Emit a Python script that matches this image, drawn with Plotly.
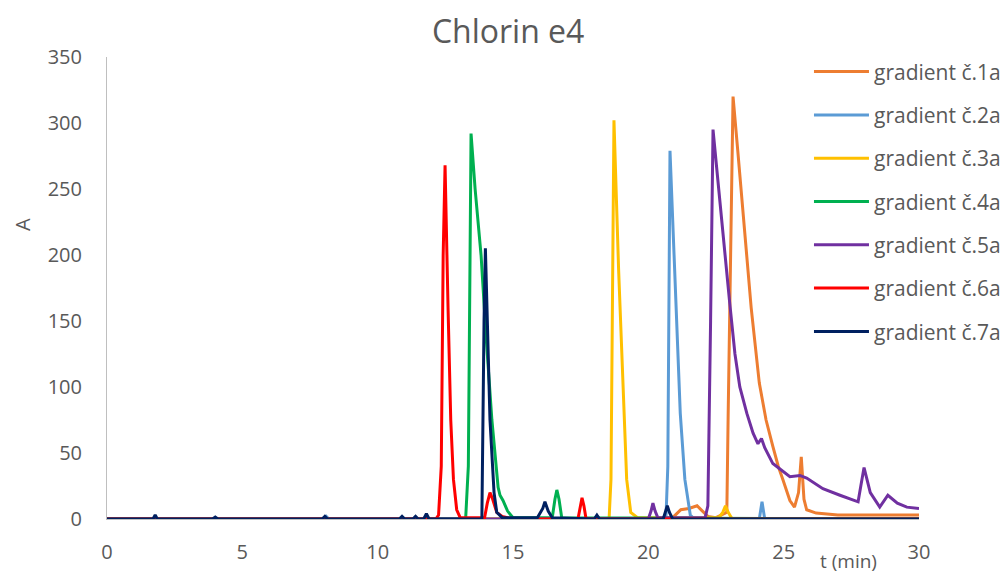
import plotly.graph_objects as go

# ---- data ----
names = ["gradient č.1a", "gradient č.2a", "gradient č.3a", "gradient č.4a",
         "gradient č.5a", "gradient č.6a", "gradient č.7a"]
colors = ["#ED7D31", "#5B9BD5", "#FFC000", "#00B050", "#7030A0", "#FF0000", "#002060"]

t1 = [0, 20.8, 20.9, 21.2, 21.5, 21.8, 22.0, 22.2, 22.5, 22.9, 22.95, 23.13, 23.3, 23.5, 23.8, 24.1, 24.35,
      24.6, 24.8, 24.97, 25.23, 25.4, 25.55, 25.65, 25.75, 25.85, 26.2, 27, 30]
y1 = [0, 0, 1, 7, 8, 10, 6, 2, 1, 5, 80, 320, 280, 232, 160, 103, 75,
      55, 40, 30, 14, 9, 20, 47, 15, 7, 4.5, 3, 3]

t2 = [0, 8.0, 8.1, 8.2, 20.65, 20.72, 20.8, 21.18, 21.35, 21.55, 21.7, 24.1, 24.2, 24.3, 30]
y2 = [0, 0, 2, 0, 0, 40, 279, 80, 30, 3, 0, 0, 13, 0, 0]

t3 = [0, 18.55, 18.62, 18.73, 18.9, 19.1, 19.2, 19.35, 19.6, 22.6, 22.75, 22.85, 22.95, 23.1, 30]
y3 = [0, 0, 30, 302, 190, 80, 30, 5, 1, 1, 5, 10, 5, 0, 0]

t4 = [0, 13.25, 13.35, 13.45, 13.6, 13.82, 14.0, 14.22, 14.45, 14.52, 14.63, 14.8, 15.0,
      16.45, 16.55, 16.62, 16.7, 16.8, 30]
y4 = [0, 0, 40, 292, 250, 200, 140, 75, 24, 18, 14, 6, 1,
      1, 15, 22, 15, 1, 0]

t5 = [0, 20.0, 20.1, 20.17, 20.25, 20.35, 22.1, 22.2, 22.3, 22.39, 22.6, 22.8, 23.0, 23.2, 23.38,
      23.64, 23.87, 24.05, 24.18, 24.3, 24.6, 25.23, 25.6, 25.85, 26.45, 27.08, 27.75, 27.85,
      27.97, 28.2, 28.55, 28.85, 29.2, 29.55, 30]
y5 = [0, 0, 6, 12, 6, 1, 1, 10, 150, 295, 250, 205, 165, 125, 100,
      80, 65, 57, 61, 54, 42, 32, 33, 31, 23, 18, 13, 25,
      39, 20, 9, 18, 12, 9, 8]

t6 = [0, 12.15, 12.25, 12.35, 12.42, 12.49, 12.6, 12.7, 12.8, 12.92, 13.05, 13.95, 14.05, 14.15, 14.25,
      14.4, 14.6, 15.0, 17.4, 17.5, 17.55, 17.62, 17.7, 30]
y6 = [0, 0, 3, 40, 200, 268, 160, 75, 30, 7, 1, 1, 12, 20, 15,
      5, 2, 0, 0, 12, 16, 10, 0, 0]

t7 = [0, 1.7, 1.78, 1.86, 3.9, 4.0, 4.1, 7.95, 8.05, 8.15, 10.8, 10.9, 11.0, 11.3, 11.4, 11.5,
      11.7, 11.8, 11.9, 12.2, 13.85, 13.93, 13.98, 14.15, 14.3, 14.4, 14.6, 15.9, 16.1, 16.18,
      16.3, 16.45, 18.0, 18.1, 18.2, 20.55, 20.65, 20.7, 20.78, 20.9, 30]
y7 = [0, 0, 3, 0, 0, 1.5, 0, 0, 2, 0, 0, 2, 0, 0, 2, 0,
      0, 4, 0, 0, 0, 150, 205, 75, 20, 5, 1, 1, 8, 13,
      6, 1, 0, 3, 0, 0, 6, 10, 5, 0, 0]

series_t = [t1, t2, t3, t4, t5, t6, t7]
series_y = [y1, y2, y3, y4, y5, y6, y7]

x_ticks = [0, 5, 10, 15, 20, 25, 30]
y_ticks = [0, 50, 100, 150, 200, 250, 300, 350]

FONT = "Open Sans"
GREY = "#595959"

fig = go.Figure()
for n, c, tx, ty in zip(names, colors, series_t, series_y):
    fig.add_trace(go.Scatter(x=tx, y=ty, name=n, mode="lines", legendgroup=n,
                             line=dict(color=c, width=3)))

fig.update_layout(
    width=1008, height=574,
    margin=dict(l=107, r=89, t=57, b=55, autoexpand=False),
    paper_bgcolor="white", plot_bgcolor="white",
    font=dict(family=FONT, color=GREY, size=20),
    title=dict(text="Chlorin e4", x=0.494, xref="paper", xanchor="center",
               y=1 - 32 / 574, yanchor="middle", font=dict(size=32, color=GREY, family=FONT)),
    showlegend=True,
    legend=dict(x=0.8645, xanchor="left", y=1.012, yanchor="top", traceorder="grouped",
                tracegroupgap=13, itemwidth=55, maxheight=1,
                font=dict(size=21, color=GREY, family=FONT),
                bgcolor="rgba(0,0,0,0)"),
    xaxis=dict(range=[0, 30], tickvals=x_ticks, showgrid=False, zeroline=False,
               showline=True, linecolor="#BFBFBF", linewidth=1, automargin=False,
               ticks="outside", ticklen=15, tickcolor="rgba(0,0,0,0)",
               tickfont=dict(size=20, color=GREY)),
    yaxis=dict(range=[0, 350], tickvals=y_ticks, showgrid=False, zeroline=False,
               showline=True, linecolor="#BFBFBF", linewidth=1, automargin=False,
               ticks="outside", ticklen=20, tickcolor="rgba(0,0,0,0)",
               tickfont=dict(size=20, color=GREY)),
    annotations=[
        dict(text="A", xref="paper", yref="paper", x=(22 - 107) / 812, y=(519 - 225) / 462,
             xanchor="center", yanchor="middle",
             showarrow=False, textangle=-90, font=dict(size=20, color=GREY)),
        dict(text="t (min)", xref="paper", yref="paper", x=(848 - 107) / 812, y=-(561 - 519) / 462,
             xanchor="center", yanchor="middle",
             showarrow=False, font=dict(size=19, color=GREY)),
    ],
)

fig.write_html("out.html")
